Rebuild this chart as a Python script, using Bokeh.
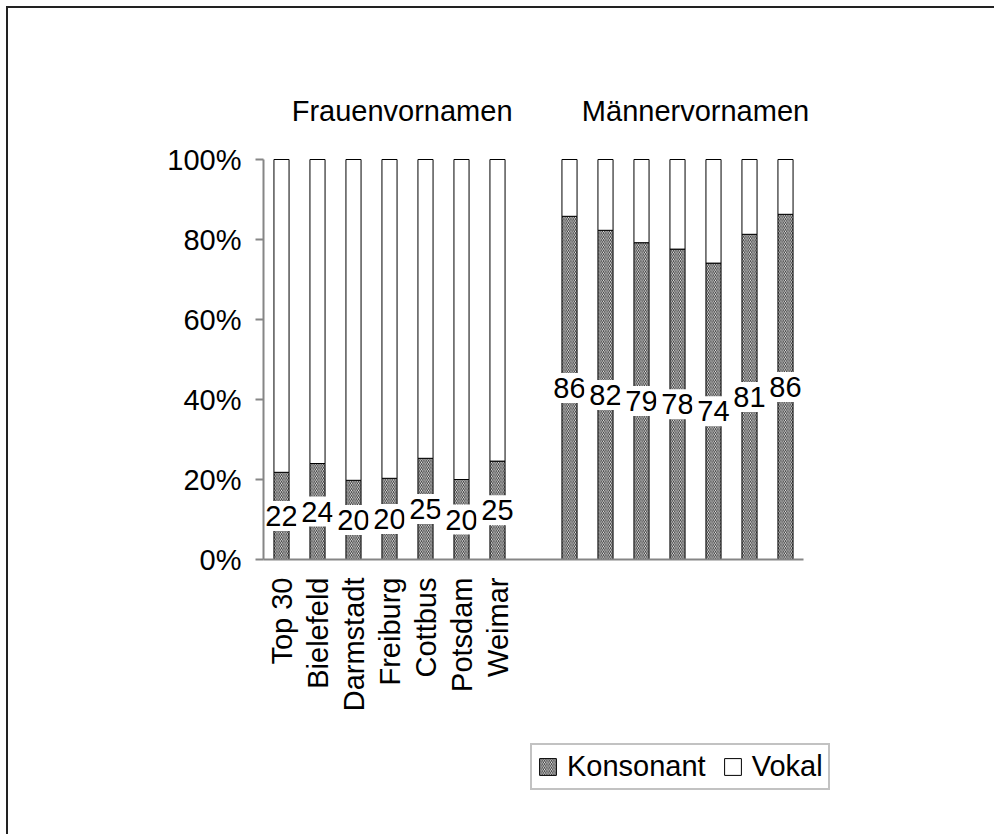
from bokeh.plotting import figure
from bokeh.models import (ColumnDataSource, FixedTicker, PrintfTickFormatter,
                          Label, Legend, LegendItem, Range1d, LinearAxis)
from bokeh.core.properties import value
from bokeh.embed import file_html
from bokeh.resources import INLINE
import math

# ---- data ----
cities = ["Top 30", "Bielefeld", "Darmstadt", "Freiburg", "Cottbus", "Potsdam", "Weimar"]
frauen_konsonant = [21.8, 24.0, 19.8, 20.3, 25.3, 20.0, 24.6]
maenner_konsonant = [85.8, 82.3, 79.2, 77.6, 74.1, 81.3, 86.3]
group_titles = ["Frauenvornamen", "Männervornamen"]
y_ticks = [0, 20, 40, 60, 80, 100]

FONT = "Liberation Sans"
FS = "29px"
GRAY = "#868686"

n = len(cities)
x_f = [i + 0.5 for i in range(n)]
x_m = [i + n + 1.5 for i in range(n)]
xs = x_f + x_m
kons = frauen_konsonant + maenner_konsonant
src = ColumnDataSource(dict(
    x=xs, kons=kons, top=[100] * len(xs), half=[k / 2 for k in kons],
    lab=[str(round(k)) for k in kons]))

W, H = 988, 828
PX_X, PX_Y = 36.0, 4.0          # pixels per data unit
X0, Y0 = 255, 551               # canvas position of data origin
p = figure(width=W, height=H, output_backend="svg", toolbar_location=None,
           x_range=Range1d(-X0 / PX_X, (W - X0) / PX_X),
           y_range=Range1d((Y0 - H) / PX_Y, Y0 / PX_Y),
           x_axis_location=None, y_axis_location=None,
           min_border=0,
           styles={"margin-left": "6px", "margin-top": "6px",
                   "border-left": "2px solid #222", "border-top": "2px solid #222"})
p.outline_line_color = None
p.grid.visible = False

r_k = p.vbar(x="x", bottom=0, top="kons", width=0.42, source=src,
             fill_color="white", line_color="black", line_width=1,
             hatch_pattern="\\", hatch_color="#222222", hatch_scale=3.5,
             hatch_weight=0.9)
r_v = p.vbar(x="x", bottom="kons", top="top", width=0.42, source=src,
             fill_color="white", line_color="black", line_width=1)

p.text(x="x", y="half", text="lab", source=src, text_align="center",
       text_baseline="middle", text_font=value(FONT), text_font_size=FS,
       text_color="black", background_fill_color="white", padding=5)

# axes
ya = LinearAxis(fixed_location=0, bounds=(0, 100))
ya.ticker = FixedTicker(ticks=y_ticks)
ya.formatter = PrintfTickFormatter(format="%d%%")
ya.major_label_text_font = FONT
ya.major_label_text_font_size = FS
ya.major_label_text_color = "black"
ya.axis_line_color = GRAY
ya.axis_line_width = 2
ya.major_tick_line_color = GRAY
ya.major_tick_line_width = 2
ya.major_tick_out = 8
ya.major_tick_in = 0
ya.minor_tick_line_color = None
ya.major_label_standoff = 14
p.add_layout(ya, "left")

xa = LinearAxis(fixed_location=0, bounds=(0, 2 * n + 1))
xa.ticker = FixedTicker(ticks=x_f)
xa.major_label_overrides = {x: c for x, c in zip(x_f, cities)}
xa.major_label_orientation = math.pi / 2
xa.major_label_text_font = FONT
xa.major_label_text_font_size = FS
xa.major_label_text_color = "black"
xa.axis_line_color = GRAY
xa.axis_line_width = 2
xa.major_tick_line_color = None
xa.major_tick_out = 0
xa.minor_tick_line_color = None
xa.major_label_standoff = 18
p.add_layout(xa, "below")

# group titles
for tx, t in zip([3.85, 12.0], group_titles):
    p.add_layout(Label(x=tx, y=112.2, text=t, text_align="center",
                       text_baseline="middle", text_font=FONT,
                       text_font_size=FS, text_color="black"))

legend = Legend(items=[LegendItem(label="Konsonant", renderers=[r_k]),
                       LegendItem(label="Vokal", renderers=[r_v])],
                orientation="horizontal", location=(522, 46),
                label_text_font=FONT, label_text_font_size=FS,
                label_text_color="black",
                glyph_width=21, glyph_height=21, label_standoff=9, spacing=16,
                padding=5, margin=0, border_line_color=GRAY, border_line_width=2,
                background_fill_alpha=1)
p.add_layout(legend, "center")

open("out.html", "w").write(file_html(p, INLINE))
